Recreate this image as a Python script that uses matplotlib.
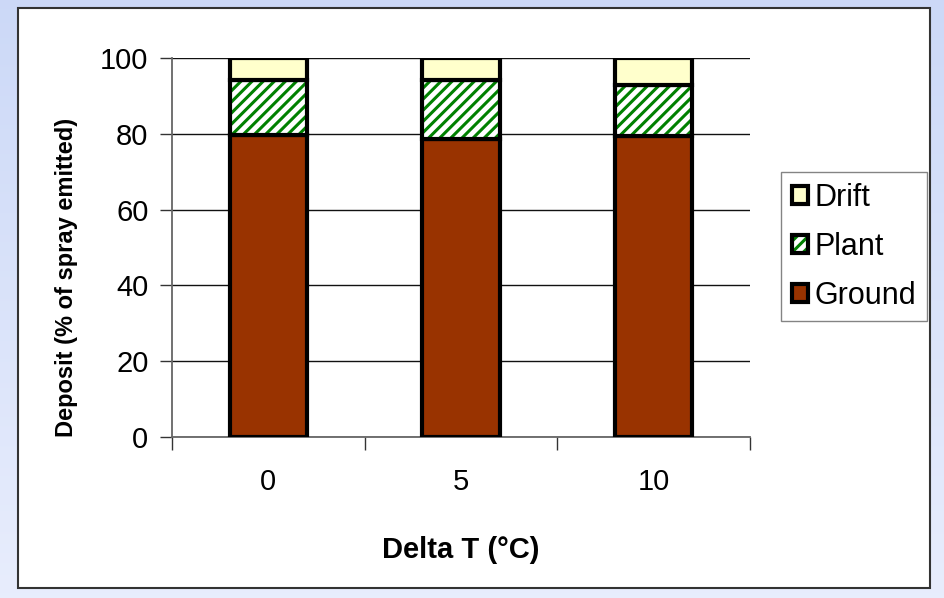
import numpy as np
import matplotlib
matplotlib.use("Agg")
import matplotlib.pyplot as plt
from matplotlib.colors import to_rgba
from matplotlib.patches import Rectangle

plt.rcParams['font.family'] = ['Liberation Sans', 'DejaVu Sans']
plt.rcParams['hatch.linewidth'] = 2.2

categories = ["0", "5", "10"]
ground = [79.7, 78.7, 79.3]
plant = [14.4, 15.4, 13.7]
drift = [5.9, 5.9, 7.0]
y_ticks = [0, 20, 40, 60, 80, 100]

W, H = 945, 598
fig = plt.figure(figsize=(W / 100, H / 100), dpi=100)

# light blue backdrop with a soft vertical gradient
bg = fig.add_axes([0, 0, 1, 1])
grad = np.linspace(0, 1, 256).reshape(-1, 1)
c_top = np.array([0.80, 0.85, 0.97])
c_bot = np.array([0.91, 0.93, 0.99])
img = c_top + (c_bot - c_top) * grad[:, :, None]
bg.imshow(img, aspect='auto', extent=[0, 1, 0, 1], origin='upper')
bg.set_xlim(0, 1)
bg.set_ylim(0, 1)
bg.axis('off')

# white chart panel
bg.add_patch(Rectangle((18 / W, 1 - 588 / H), (930 - 18) / W, (588 - 8) / H,
                       facecolor='white', edgecolor='#333333', linewidth=1.5,
                       transform=bg.transAxes, zorder=2))

ax = fig.add_axes([172 / W, 1 - 437 / H, (750 - 172) / W, (437 - 58) / H])
ax.set_zorder(3)
ax.patch.set_alpha(0)

x = np.arange(len(categories))
width = 0.4
ground_bars = ax.bar(x, ground, width, color='#993300', edgecolor='black',
                     linewidth=3, label='Ground', zorder=3)
plant_bars = ax.bar(x, plant, width, bottom=ground, color='white', edgecolor='black',
                    linewidth=3, hatch='///', label='Plant', zorder=3)
# green hatch lines inside a black outline
for b in plant_bars:
    b._hatch_color = to_rgba('#008000')
bottom2 = [g + p for g, p in zip(ground, plant)]
drift_bars = ax.bar(x, drift, width, bottom=bottom2, color='#ffffcc', edgecolor='black',
                    linewidth=3, label='Drift', zorder=3)

ax.set_xlim(-0.5, len(categories) - 0.5)
ax.set_ylim(0, 100)
ax.set_yticks(y_ticks)
ax.set_yticklabels([str(v) for v in y_ticks], fontsize=21)
ax.yaxis.grid(True, color='#111111', linewidth=1.0, zorder=0)
ax.set_axisbelow(True)

ax.set_xticks(x)
ax.set_xticklabels(categories, fontsize=21)
ax.tick_params(axis='x', length=0, pad=22)
ax.set_xticks(np.arange(-0.5, len(categories)), minor=True)
ax.tick_params(axis='x', which='minor', length=9, width=1, color='#333333')
ax.tick_params(axis='y', length=9, width=1, color='#333333', pad=8)

for s in ['top', 'right']:
    ax.spines[s].set_visible(False)
ax.spines['left'].set_color('#666666')
ax.spines['left'].set_linewidth(1.3)
ax.spines['bottom'].set_color('#666666')
ax.spines['bottom'].set_linewidth(1.3)

ax.set_xlabel('Delta T (°C)', fontsize=21, fontweight='bold', labelpad=29)
fig.text(67 / W, 1 - 277 / H, 'Deposit (% of spray emitted)', rotation=90,
         ha='center', va='center', fontsize=17, fontweight='bold', zorder=5)

handles = [drift_bars, plant_bars, ground_bars]
leg = fig.legend(handles, ['Drift', 'Plant', 'Ground'], loc='upper left',
                 bbox_to_anchor=(781 / W, 1 - 172 / H), fontsize=22,
                 frameon=True, fancybox=False, edgecolor='#666666',
                 handlelength=0.55, handleheight=0.55, handletextpad=0.2,
                 labelspacing=0.62, borderpad=0.35, borderaxespad=0)
leg.set_zorder(5)
leg.get_frame().set_linewidth(1)
for p in leg.get_patches():
    if p.get_hatch():
        p._hatch_color = to_rgba('#008000')

fig.savefig('out.png', dpi=100)
